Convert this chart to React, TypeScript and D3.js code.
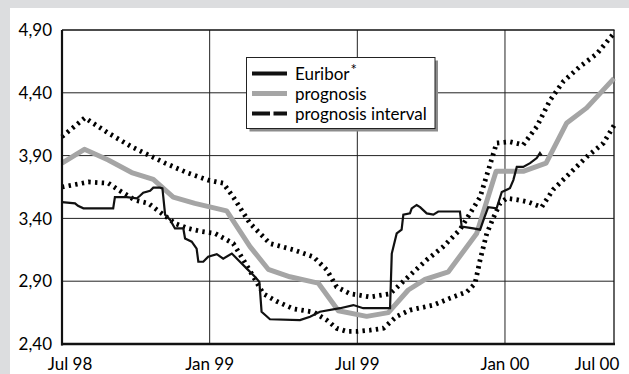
import React from "react";
import * as d3 from "d3";

// months since Jul 1998
const tickMonths = [0, 6, 12, 18, 24];
const tickLabels = ["Jul 98", "Jan 99", "Jul 99", "Jan 00", "Jul 00"];
const yTicks = [2.4, 2.9, 3.4, 3.9, 4.4, 4.9];

const euriborM = [0, 0.53, 0.65, 0.87, 2.08, 2.15, 2.63, 3.04, 3.17, 3.3, 3.58, 3.71, 3.98, 4.08, 4.19, 4.39, 4.59, 4.93, 5.0, 5.27, 5.47, 5.54, 5.74, 5.94, 6.29, 6.55, 6.9, 7.23, 7.51, 7.84, 8.02, 8.11, 8.45, 9.67, 10.08, 10.48, 11.3, 11.84, 12.24, 13.33, 13.4, 13.6, 13.8, 13.87, 14.14, 14.21, 14.41, 14.55, 14.82, 15.09, 15.29, 16.17, 16.24, 16.71, 16.99, 17.15, 17.32, 17.66, 17.87, 18.2, 18.34, 18.48, 18.74, 19.02, 19.29, 19.42, 19.49];
const euriborV = [3.53, 3.52, 3.5, 3.48, 3.48, 3.57, 3.57, 3.56, 3.58, 3.605, 3.62, 3.645, 3.645, 3.64, 3.43, 3.39, 3.32, 3.32, 3.24, 3.215, 3.16, 3.055, 3.055, 3.095, 3.115, 3.08, 3.12, 3.055, 3.0, 2.935, 2.895, 2.657, 2.597, 2.59, 2.617, 2.657, 2.685, 2.71, 2.685, 2.685, 3.12, 3.28, 3.31, 3.43, 3.44, 3.48, 3.507, 3.49, 3.44, 3.43, 3.455, 3.455, 3.335, 3.32, 3.31, 3.4, 3.49, 3.48, 3.61, 3.64, 3.705, 3.81, 3.81, 3.84, 3.88, 3.92, 3.9];

const progM = [0, 0.91, 1.88, 2.83, 3.71, 4.52, 5.4, 6.69, 7.64, 8.38, 9.26, 10.41, 11.23, 12.38, 13.26, 14.07, 14.75, 15.7, 16.85, 17.64, 18.74, 19.67, 20.51, 21.32, 22.43];
const progV = [3.84, 3.95, 3.865, 3.765, 3.71, 3.57, 3.52, 3.46, 3.175, 2.995, 2.935, 2.885, 2.665, 2.62, 2.65, 2.83, 2.915, 2.975, 3.28, 3.775, 3.775, 3.84, 4.16, 4.28, 4.515];

const upperM = [0, 0.93, 1.88, 2.83, 3.51, 4.19, 5.13, 5.94, 6.55, 6.96, 7.64, 8.45, 9.4, 10.21, 10.76, 11.16, 11.7, 12.52, 13.33, 14.07, 14.82, 15.49, 16.17, 16.99, 17.66, 18.2, 18.74, 19.29, 19.83, 20.37, 21.05, 21.73, 22.43];
const upperV = [4.05, 4.2, 4.08, 3.97, 3.905, 3.84, 3.76, 3.705, 3.68, 3.57, 3.36, 3.2, 3.15, 3.095, 2.99, 2.855, 2.8, 2.775, 2.8, 2.935, 3.07, 3.175, 3.31, 3.57, 4.0, 4.01, 3.985, 4.13, 4.34, 4.49, 4.61, 4.71, 4.875];

const lowerM = [0, 1.07, 1.88, 2.43, 2.97, 3.51, 4.05, 4.59, 5.13, 5.68, 6.22, 6.96, 7.37, 7.78, 8.18, 8.72, 9.4, 10.21, 10.76, 11.16, 11.57, 12.0, 12.52, 13.06, 13.6, 14.14, 15.09, 15.77, 16.45, 16.78, 16.99, 17.26, 17.54, 17.8, 18.07, 18.47, 18.95, 19.49, 19.96, 20.64, 21.32, 22.0, 22.43];
const lowerV = [3.65, 3.69, 3.68, 3.61, 3.545, 3.52, 3.44, 3.36, 3.32, 3.295, 3.28, 3.2, 3.07, 2.935, 2.8, 2.74, 2.68, 2.655, 2.59, 2.525, 2.5, 2.5, 2.51, 2.525, 2.62, 2.67, 2.71, 2.765, 2.815, 2.88, 3.07, 3.28, 3.41, 3.52, 3.56, 3.55, 3.53, 3.49, 3.63, 3.76, 3.89, 4.0, 4.14];

const legendLabels = ["Euribor", "prognosis", "prognosis interval"];

const W = 629;
const H = 374;
const L = 62, R = 614, T = 30, B = 344;
const FONT = "Lato, 'Open Sans', sans-serif";

export default function App() {
  const x = d3.scaleLinear().domain([0, 22.43]).range([L, R]);
  const y = d3.scaleLinear().domain([2.4, 4.9]).range([B, T]);
  const line = d3
    .line<[number, number]>()
    .x((d) => x(d[0]))
    .y((d) => y(d[1]));
  const zip = (a: number[], b: number[]) => a.map((m, i) => [m, b[i]] as [number, number]);
  const fmt = (v: number) => d3.format(".2f")(v).replace(".", ",");
  const dotted = { stroke: "#000", strokeWidth: 4.8, strokeDasharray: "2.4 4.3", fill: "none" };

  const legX = 246.5, legY = 57.5, legW = 188.5, legH = 71;
  const rows = [73.5, 93.5, 113.5];

  return (
    <svg width={W} height={H} style={{ position: "absolute", left: 0, top: 0 }} fontFamily={FONT}>
      <rect x={0} y={0} width={W} height={H} fill="#dcdddf" />
      <rect x={10} y={8} width={W - 10} height={H - 8} fill="#ffffff" />
      {/* grid */}
      {yTicks.slice(1, -1).map((t) => (
        <line key={"gy" + t} x1={L} x2={R} y1={y(t)} y2={y(t)} stroke="#222" strokeWidth={1} />
      ))}
      {tickMonths.filter((m) => m > 0 && m < 22.43).map((m) => (
        <line key={"gx" + m} x1={x(m)} x2={x(m)} y1={T} y2={B} stroke="#222" strokeWidth={1} />
      ))}
      <line x1={L} x2={R + 0.5} y1={T} y2={T} stroke="#111" strokeWidth={1.3} />
      <line x1={R} x2={R} y1={T} y2={B} stroke="#111" strokeWidth={1.3} />
      {/* series */}
      <path d={line(zip(progM, progV)) || ""} stroke="#a5a5a5" strokeWidth={5} fill="none" strokeLinejoin="round" />
      <path d={line(zip(upperM, upperV)) || ""} {...dotted} />
      <path d={line(zip(lowerM, lowerV)) || ""} {...dotted} />
      <path d={line(zip(euriborM, euriborV)) || ""} stroke="#111" strokeWidth={2.2} fill="none" strokeLinejoin="miter" />
      {/* axes */}
      <line x1={L} x2={L} y1={T} y2={B + 1.5} stroke="#111" strokeWidth={2.2} />
      <line x1={L - 1} x2={R + 1} y1={B} y2={B} stroke="#111" strokeWidth={2.6} />
      {yTicks.map((t) => (
        <text key={"yl" + t} x={52} y={y(t)} dy="0.36em" textAnchor="end" fontSize={17} fill="#000">
          {fmt(t)}
        </text>
      ))}
      {tickMonths.map((m, i) => (
        <text key={"xl" + m} x={Math.max(70, Math.min(597, x(m)))} y={370} textAnchor="middle" fontSize={17} fill="#000">
          {tickLabels[i]}
        </text>
      ))}
      {/* legend */}
      <rect x={legX + 3} y={legY + 3} width={legW} height={legH} fill="#8c8c8c" />
      <rect x={legX} y={legY} width={legW} height={legH} fill="#fff" stroke="#222" strokeWidth={1} />
      <line x1={252} x2={287} y1={rows[0]} y2={rows[0]} stroke="#111" strokeWidth={4} />
      <line x1={252} x2={287} y1={rows[1]} y2={rows[1]} stroke="#a5a5a5" strokeWidth={5} />
      <line x1={252} x2={287} y1={rows[2]} y2={rows[2]} stroke="#111" strokeWidth={4} strokeDasharray="18 3.5" />
      {legendLabels.map((lab, i) => (
        <text key={lab} x={295} y={rows[i]} dy="0.36em" fontSize={17} fill="#000">
          {lab}
          {i === 0 ? <tspan dx="1" dy="-0.3em" fontSize={15}>*</tspan> : null}
        </text>
      ))}
    </svg>
  );
}
